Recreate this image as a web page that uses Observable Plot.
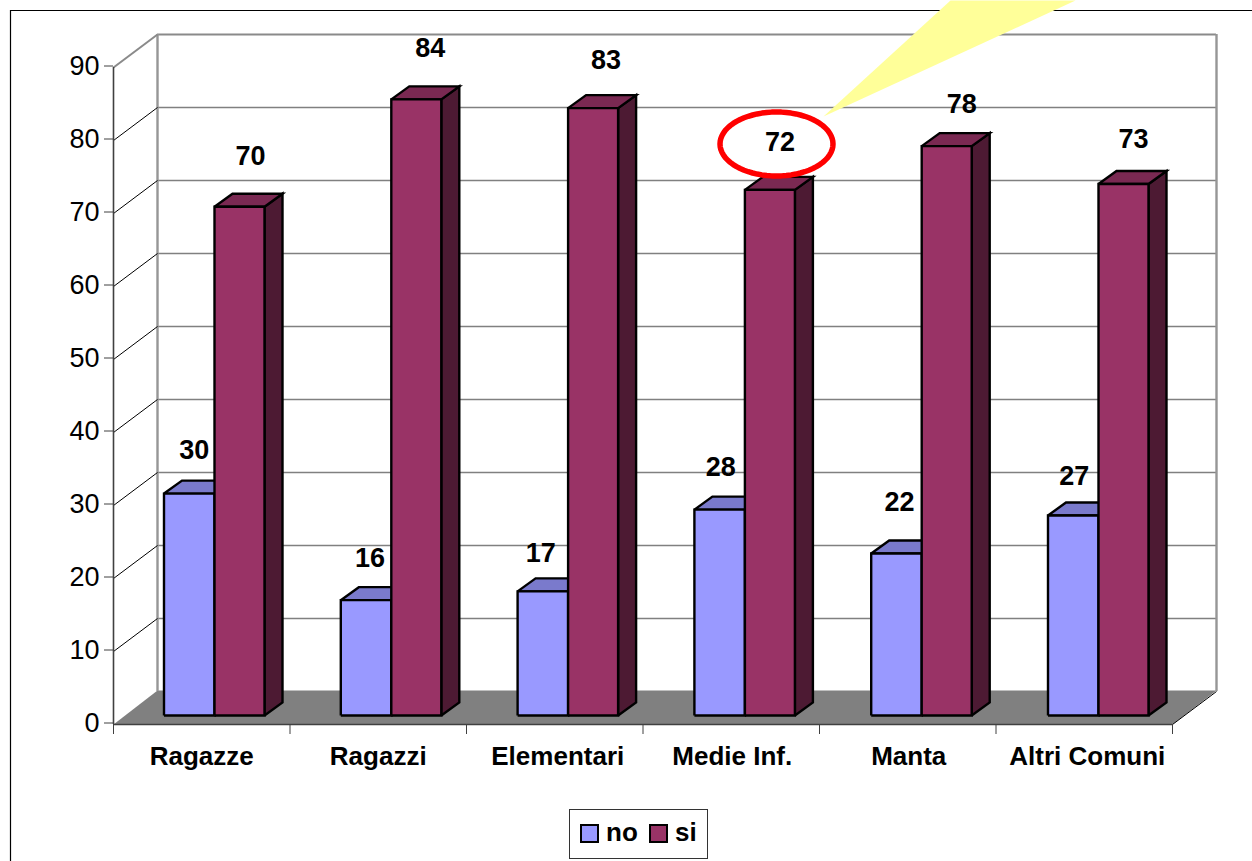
<!DOCTYPE html>
<html>
<head>
<meta charset="utf-8">
<script src="https://cdn.jsdelivr.net/npm/d3@7"></script>
<script src="https://cdn.jsdelivr.net/npm/@observablehq/plot@0.6"></script>
<style>
  html, body { margin: 0; padding: 0; background: #fff; overflow: hidden; }
  #wrap { position: relative; width: 1252px; height: 861px; font-family: "Liberation Sans", Arial, sans-serif; }
  #wrap svg { display: block; }
  #legend { position: absolute; left: 569px; top: 809px; width: 137px; height: 48px; box-sizing: content-box;
    border: 1.5px solid #333; background: #fff; font-weight: bold; font-size: 26px; color: #000; }
  #legend i { position: absolute; top: 14px; width: 15px; height: 15px; border: 2px solid #000; }
  #legend span { position: absolute; top: 7px; line-height: 30px; }
</style>
</head>
<body>
<div id="wrap"></div>
<script>
const categories = ["Ragazze", "Ragazzi", "Elementari", "Medie Inf.", "Manta", "Altri Comuni"];
const no = [30.4, 15.8, 17.0, 28.2, 22.2, 27.4];
const si = [69.7, 84.4, 83.2, 72.0, 78.0, 72.8];
const yTicks = [0, 10, 20, 30, 40, 50, 60, 70, 80, 90];

const colors = {
  no: { front: "#9999ff", top: "#7a7acc", side: "#4d4d80" },
  si: { front: "#993366", top: "#7a2952", side: "#4d1a33" }
};

// Layout: the plot frame maps categories to 176.5px each and values to 7.3px each.
const catPx = 176.5, valPx = 7.3, x0 = 113, y0 = 724;
const X = px => (px - x0) / catPx, Y = px => (y0 - px) / valPx;
const W = px => px / catPx, H = px => px / valPx;
const wallX = W(44), wallY = H(33);          // depth of the chart box
const barX = W(18), barY = H(13);            // depth of a bar
const baseX = X(163.5), baseY = H(9), step = W(176.8);
const noW = W(50.5), siW = W(50);

// Hand placement of the labels, in pixels relative to their bar's top centre
const noNudge = [[5, 43], [4, 42], [-2, 38], [1, 42], [3, 51], [1, 39]];
const siNudge = [[11, 50], [14, 51], [13, 48], [10, 48], [15, 42], [10, 45]];
const categoryNudge = [0, 0, 3, 1, 1, 3];

const faces = [], labels = [];
function poly(key, fill, pts) {
  pts.concat([pts[0]]).forEach(([x, y]) => faces.push({ key, fill, x, y }));
}
function bar(i, name, v, left, width, nudge) {
  const c = colors[name], b = baseY, t = baseY + v, r = left + width;
  poly(`${i}${name}side`, c.side, [[r, b], [r + barX, b + barY], [r + barX, t + barY], [r, t]]);
  poly(`${i}${name}top`, c.top, [[left, t], [left + barX, t + barY], [r + barX, t + barY], [r, t]]);
  poly(`${i}${name}front`, c.front, [[left, b], [r, b], [r, t], [left, t]]);
  labels.push({ x: left + width / 2 + W(nudge[0]), y: t + H(nudge[1]), text: String(Math.round(v)) });
}
categories.forEach((_, i) => {
  const left = baseX + i * step;
  bar(i, "no", no[i], left, noW, noNudge[i]);
  bar(i, "si", si[i], left + noW, siW, siNudge[i]);
});

const floorY = H(34);
const floor = [[0, 0], [wallX, floorY], [6 + wallX, floorY], [6, 0]];
const beam = [[X(823), Y(116)], [X(950), Y(0)], [X(1075), Y(0)]];
const ellipse = d3.range(0, 361, 5).map(a => ({
  x: X(776) + W(56.5) * Math.cos(a * Math.PI / 180),
  y: Y(143.5) + H(32) * Math.sin(a * Math.PI / 180)
}));

const chart = Plot.plot({
  width: 1252, height: 861,
  marginLeft: x0, marginRight: 1252 - 1172, marginTop: 67, marginBottom: 861 - y0,
  style: { fontFamily: "Liberation Sans, Arial, sans-serif", background: "transparent", color: "#000" },
  x: { domain: [0, 6], axis: null },
  y: { domain: [0, 90], axis: null },
  marks: [
    // outer frame
    Plot.ruleY([Y(10)], { x1: X(10), x2: X(1252), stroke: "#000", strokeWidth: 1.2 }),
    Plot.ruleX([X(10)], { y1: Y(10), y2: Y(861), stroke: "#000", strokeWidth: 1.2 }),
    // floor
    Plot.line(floor.concat([floor[0]]), { x: d => d[0], y: d => d[1], fill: "#808080", stroke: "none" }),
    // back wall grid
    Plot.ruleY(yTicks.slice(1, -1), { x1: wallX, x2: 6 + wallX, y: d => d + wallY, stroke: "#808080", strokeWidth: 1.4 }),
    Plot.ruleY([90], { x1: wallX, x2: 6 + wallX, y: d => d + wallY, stroke: "#8a8a8a", strokeWidth: 2 }),
    Plot.ruleX([wallX, 6 + wallX], { y1: wallY, y2: 90 + wallY, stroke: "#969696", strokeWidth: 2.4 }),
    // left wall grid
    Plot.link(yTicks.slice(1, -1), { x1: 0, x2: wallX, y1: d => d, y2: d => d + wallY, stroke: "#000", strokeWidth: 1 }),
    Plot.link([90], { x1: 0, x2: wallX, y1: d => d, y2: d => d + wallY, stroke: "#8a8a8a", strokeWidth: 2 }),
    Plot.link([0], { x1: 6, x2: 6 + wallX, y1: 0, y2: wallY, stroke: "#000", strokeWidth: 1 }),
    // axes
    Plot.ruleX([0], { y1: 0, y2: 90, stroke: "#404040", strokeWidth: 1.6 }),
    Plot.ruleY([0], { x1: 0, x2: 6, stroke: "#404040", strokeWidth: 1.6 }),
    Plot.axisY({ ticks: yTicks, tickSize: 9, tickPadding: 5, fontSize: 27, tickFormat: d => String(d), label: null, stroke: "#404040", textStroke: "none", dy: -1.5 }),
    Plot.axisX({ ticks: d3.range(0, 7), tickSize: 10, tickFormat: () => "", label: null, stroke: "#404040" }),
    Plot.text(categories, {
      x: (d, i) => i + 0.5 + W(categoryNudge[i]), y: Y(756), text: d => d,
      fontSize: 26, fontWeight: "bold", fill: "#000"
    }),
    // bars
    Plot.line(faces, {
      x: "x", y: "y", z: "key", fill: "fill", stroke: "#000", strokeWidth: 2.4,
      strokeLinejoin: "miter", strokeMiterlimit: 4, strokeLinecap: "butt"
    }),
    // callout
    Plot.line(beam.concat([beam[0]]), { x: d => d[0], y: d => d[1], fill: "#ffff99", stroke: "none" }),
    Plot.line(ellipse, { x: "x", y: "y", stroke: "#ff0000", strokeWidth: 5.5 }),
    // value labels
    Plot.text(labels, { x: "x", y: "y", text: "text", fontSize: 27, fontWeight: "bold", fill: "#000" })
  ]
});
const wrap = document.getElementById("wrap");
wrap.appendChild(chart);

const legend = document.createElement("div");
legend.id = "legend";
legend.innerHTML =
  `<i style="left:10px;background:${colors.no.front}"></i><span style="left:36px">no</span>` +
  `<i style="left:79px;background:${colors.si.front}"></i><span style="left:105px">si</span>`;
wrap.appendChild(legend);
</script>
</body>
</html>
